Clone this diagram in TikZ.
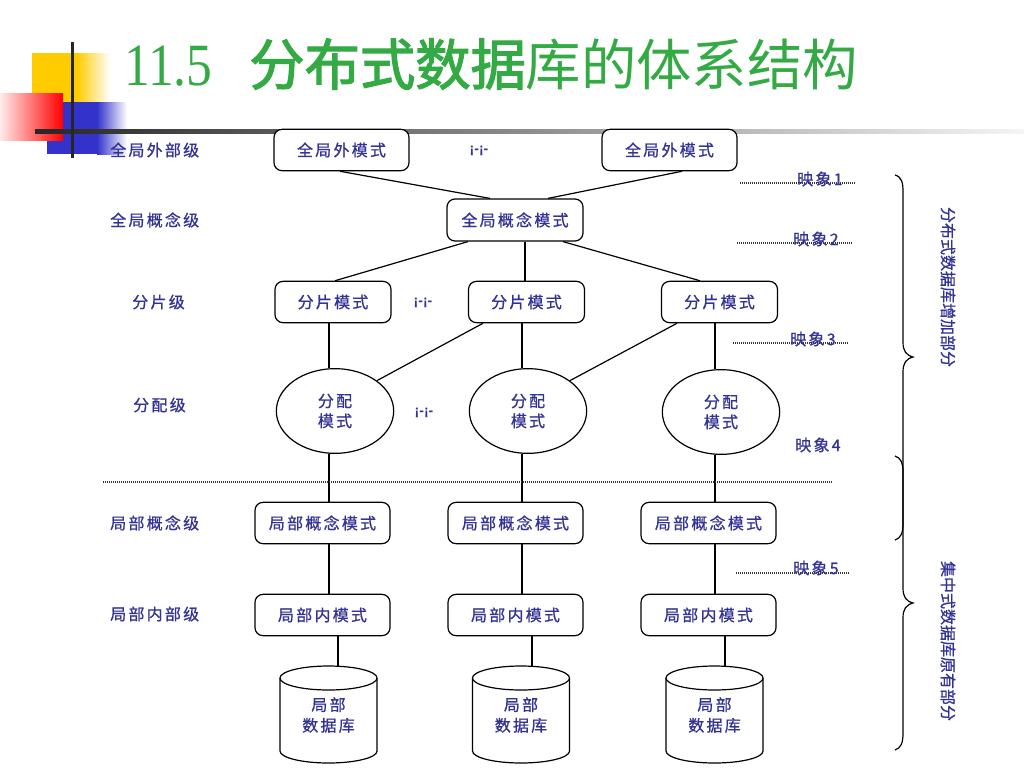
\documentclass[tikz,border=0pt]{standalone}
\usepackage{fontspec}
\setmainfont{Noto Sans CJK SC}
\newfontfamily\cjk[LetterSpace=14, FakeBold=0.8]{Noto Sans CJK SC}
\newfontfamily\plaincjk[FakeBold=0.8]{Noto Sans CJK SC}
\newfontfamily\titlecjk{Noto Sans CJK SC}
\newfontfamily\titlecjkb[FakeBold=2.2]{Noto Sans CJK SC}
\newfontfamily\titleserif{Liberation Serif}
\newfontfamily\arialf{Liberation Sans}
\usetikzlibrary{shapes.geometric}
\definecolor{txtblue}{RGB}{51,51,150}
\definecolor{titlegreen}{RGB}{51,170,68}
\definecolor{decoyellow}{RGB}{255,204,0}
\definecolor{decoblue}{RGB}{51,51,204}
\begin{document}
\begin{tikzpicture}[x=0.75pt,y=-0.75pt,
  lbl/.style={font=\cjk\fontsize{12pt}{15pt}\selectfont, text=txtblue, inner sep=0pt},
  box/.style={draw, line width=0.9pt, rounded corners=6pt, fill=white,
    font=\cjk\fontsize{12pt}{15pt}\selectfont, text=txtblue, inner sep=0pt,
    minimum height=31pt},
  ell/.style={ellipse, draw, line width=0.9pt, fill=white, align=center,
    font=\cjk\fontsize{12pt}{15pt}\selectfont, text=txtblue, inner sep=0pt,
    minimum width=88pt, minimum height=63.5pt},
  dbnode/.style={align=center, font=\cjk\fontsize{12pt}{15.5pt}\selectfont,
    text=txtblue, inner sep=0pt, minimum width=73pt, minimum height=73pt},
  conn/.style={line width=0.9pt},
  dotline/.style={line width=0.8pt, dash pattern=on 0.75pt off 0.75pt, black!80},
  etc/.style={font=\arialf\bfseries\fontsize{10.5pt}{12pt}\selectfont, text=txtblue, inner sep=0pt},
  brace/.style={line width=0.9pt}]
\useasboundingbox (0,0) rectangle (1024,768);

% ---------- decoration top left ----------
\fill[decoyellow] (32,53) rectangle (77,102);
\shade[left color=decoyellow, right color=white] (77,53) rectangle (110,102);
\fill[decoblue] (47,102) rectangle (97,154);
\shade[left color=decoblue, right color=white] (97,102) rectangle (127,154);
\shade[left color=red!8, right color=red] (0,93) rectangle (63,140);
\shade[left color=black!85, right color=black!4] (35,129.5) rectangle (1024,133.5);
\fill[black!85] (70.5,42) rectangle (74,158);

% ---------- title ----------
\node[anchor=base west, inner sep=0pt, text=titlegreen,
  font=\titleserif\fontsize{45pt}{50pt}\selectfont] (tnum) at (124,85) {\scalebox{0.86}[1]{11.5}};
\node[anchor=base west, inner sep=0pt, text=titlegreen,
  font=\titlecjk\fontsize{41.5pt}{46pt}\selectfont] (ttxt) at (249,85) {{\titlecjkb 分布式数据}库的体系结构};

% ---------- level labels ----------
\node[lbl, anchor=west] (lv1) at (110,150) {全局外部级};
\node[lbl, anchor=west] (lv2) at (110,220) {全局概念级};
\node[lbl, anchor=west] (lv3) at (132,302) {分片级};
\node[lbl, anchor=west] (lv4) at (133,405) {分配级};
\node[lbl, anchor=west] (lv5) at (110,523) {局部概念级};
\node[lbl, anchor=west] (lv6) at (110,614) {局部内部级};

% ---------- nodes ----------
\node[box, minimum width=101.25pt] (geL) at (341.5,150) {全局外模式};
\node[box, minimum width=101.25pt] (geR) at (669.5,150) {全局外模式};
\node[etc] (dots1) at (479,151) {¡-¡-};

\node[box, minimum width=102pt, minimum height=31.5pt] (gc) at (515,220) {全局概念模式};

\node[box, minimum width=87pt] (fpL) at (333,302) {分片模式};
\node[box, minimum width=87pt] (fpM) at (526.5,302) {分片模式};
\node[box, minimum width=87pt] (fpR) at (719.5,302) {分片模式};
\node[etc] (dots2) at (423,303) {¡-¡-};

\node[ell] (alL) at (335,411) {分配\\模式};
\node[ell] (alM) at (528,411) {分配\\模式};
\node[ell] (alR) at (721,412) {分配\\模式};
\node[etc] (dots3) at (424,413) {¡-¡-};

\node[box, minimum width=101.25pt] (lcL) at (322.5,523) {局部概念模式};
\node[box, minimum width=101.25pt] (lcM) at (515.5,523) {局部概念模式};
\node[box, minimum width=101.25pt] (lcR) at (708.5,523) {局部概念模式};

\node[box, minimum width=101.25pt] (liL) at (322.5,615) {局部内模式};
\node[box, minimum width=101.25pt] (liM) at (515.5,615) {局部内模式};
\node[box, minimum width=101.25pt] (liR) at (708.5,615) {局部内模式};

% cylinders
\foreach \n/\x in {L/328.5, M/521, R/714.5}{
  \draw[conn, fill=white] (\x-48.5,678) -- (\x-48.5,751)
     arc[start angle=180, end angle=360, x radius=36.4pt, y radius=9pt]
     -- (\x+48.5,678);
  \draw[conn, fill=white] (\x,678) ellipse[x radius=36.4pt, y radius=9pt];
  \node[dbnode] (db\n) at (\x,715) {局部\\数据库};
}

% ---------- helper x positions ----------
\coordinate (x329) at (329,0);
\coordinate (x338) at (338,0);
\coordinate (x340) at (340,0);
\coordinate (x468) at (468,0);
\coordinate (x483) at (483,0);
\coordinate (x490) at (490,0);
\coordinate (x522) at (522,0);
\coordinate (x525) at (525,0);
\coordinate (x532) at (532,0);
\coordinate (x548) at (548,0);
\coordinate (x563) at (563,0);
\coordinate (x677) at (677,0);
\coordinate (x682) at (682,0);
\coordinate (x700) at (700,0);
\coordinate (x335) at (335,0);
\coordinate (x715) at (715,0);
\coordinate (x725) at (725,0);

% ---------- connectors ----------
\draw[conn] (geL.south -| x340) -- (gc.north -| x490);
\draw[conn] (geR.south -| x682) -- (gc.north -| x548);
\draw[conn] (gc.south -| x468) -- (fpL.north -| x335);
\draw[conn] (gc.south -| x525) -- (fpM.north -| x525);
\draw[conn] (gc.south -| x563) -- (fpR.north -| x700);

\draw[conn] (fpL.south -| x329) -- (alL.north -| x329);
\draw[conn] (fpM.south -| x522) -- (alM.north -| x522);
\draw[conn] (fpR.south -| x715) -- (alR.north -| x715);
\draw[conn] (fpM.south -| x483) -- (alL.north east);
\draw[conn] (fpR.south -| x677) -- (alM.north east);

\draw[conn] (alL.south -| x329) -- (lcL.north -| x329);
\draw[conn] (alM.south -| x522) -- (lcM.north -| x522);
\draw[conn] (alR.south -| x715) -- (lcR.north -| x715);

\draw[conn] (lcL.south -| x329) -- (liL.north -| x329);
\draw[conn] (lcM.south -| x522) -- (liM.north -| x522);
\draw[conn] (lcR.south -| x715) -- (liR.north -| x715);

\draw[conn] (liL.south -| x338) -- (dbL.north -| x338);
\draw[conn] (liM.south -| x532) -- (dbM.north -| x532);
\draw[conn] (liR.south -| x725) -- (dbR.north -| x725);

% ---------- separator ----------
\coordinate (sepA) at (103,482);
\coordinate (sepB) at (832,482);
\draw[dotline] (sepA) -- (sepB);

% ---------- mapping labels ----------
\coordinate (m1a) at (740,183); \coordinate (m1b) at (855,183);
\coordinate (m2a) at (737,243); \coordinate (m2b) at (852,243);
\coordinate (m3a) at (733,343); \coordinate (m3b) at (848,343);
\coordinate (m5a) at (736,573); \coordinate (m5b) at (850,573);
\draw[dotline] (m1a) -- (m1b);
\draw[dotline] (m2a) -- (m2b);
\draw[dotline] (m3a) -- (m3b);
\draw[dotline] (m5a) -- (m5b);
\node[lbl, anchor=west] (map1) at (797,179) {映象1};
\node[lbl, anchor=west] (map2) at (793,239) {映象2};
\node[lbl, anchor=west] (map3) at (790,339) {映象3};
\node[lbl, anchor=west] (map4) at (795,445) {映象4};
\node[lbl, anchor=west] (map5) at (793,568) {映象5};

% ---------- braces ----------
\draw[brace] (895,175) .. controls (902,177) and (903,183) .. (903,192)
  -- (903,342) .. controls (903,351) and (906,355) .. (913,357)
  .. controls (906,359) and (903,363) .. (903,372)
  -- (903,523) .. controls (903,533) and (901,538) .. (895,540);
\draw[brace] (895,456) .. controls (901,458) and (903,463) .. (903,472)
  -- (903,588) .. controls (903,597) and (906,601) .. (913,603)
  .. controls (906,605) and (903,609) .. (903,618)
  -- (903,733) .. controls (903,743) and (901,748) .. (895,750);

\node[font=\plaincjk\fontsize{12pt}{14pt}\selectfont, text=txtblue, rotate=-90, inner sep=0pt] (side1) at (948,287) {分布式数据库增加部分};
\node[font=\plaincjk\fontsize{12pt}{14pt}\selectfont, text=txtblue, rotate=-90, inner sep=0pt] (side2) at (948,641) {集中式数据库原有部分};
\end{tikzpicture}
\end{document}
